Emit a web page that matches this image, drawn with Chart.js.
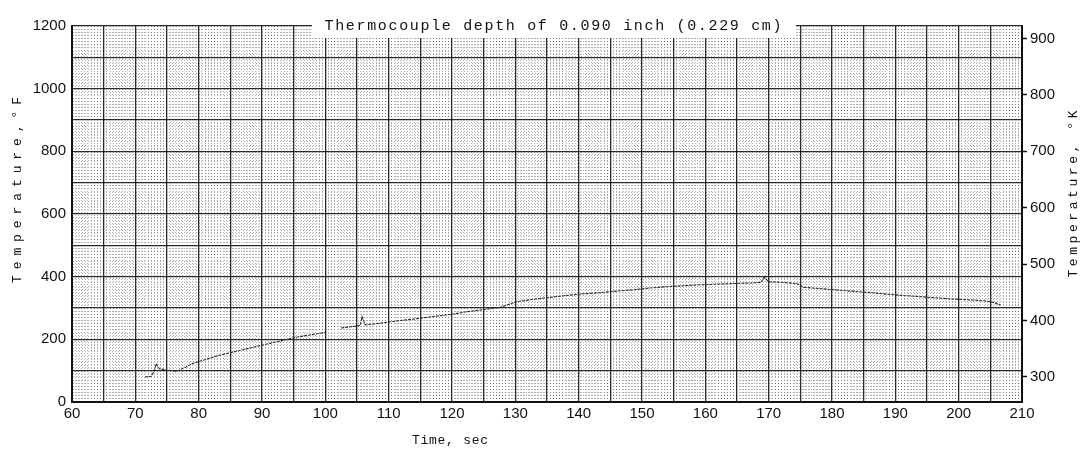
<!DOCTYPE html>
<html>
<head>
<meta charset="utf-8">
<script src="https://cdn.jsdelivr.net/npm/chart.js@4/dist/chart.umd.min.js"></script>
<style>
  html, body { margin: 0; padding: 0; background: #fff; }
  canvas { display: block; }
</style>
</head>
<body>
<canvas id="myChart" width="1084" height="455"></canvas>
<script>
// Thermocouple trace, time in sec and temperature in deg F (null = gap in the record)
const timeSec = [71.5, 72.5, 73.0, 73.3, 73.8, 75.0, 76.5, 78.0, 79.2, 81.0, 83.4, 86.0, 89.7, 92.5, 95.0, 97.5, 100.0, 100.1,
  101.0,
  102.5, 104.0, 105.5, 105.8, 106.3, 108.0, 111.8, 114.5, 117.1, 120.0, 122.3, 125.0, 127.6, 130.2, 132.9, 135.5, 138.1,
  140.5, 143.4, 146.0, 148.7, 151.3, 153.9, 156.5, 159.0, 161.8, 164.5, 167.1, 168.8, 169.3, 170.0, 172.0, 174.5, 175.5,
  178.7, 180.5, 182.9, 185.5, 188.2, 190.5, 193.4, 196.0, 198.7, 201.5, 204.0, 205.5, 206.6];
const tempF = [80, 82, 100, 122, 106, 102, 98, 112, 124, 135, 150, 162, 180, 193, 205, 214, 222, 232,
  null,
  236, 240, 244, 272, 246, 250, 260, 266, 273, 280, 288, 295, 302, 320, 328, 334, 340,
  345, 349, 354, 358, 364, 368, 371, 374, 376, 378, 380, 382, 398, 384, 382, 378, 366,
  361, 358, 354, 350, 345, 341, 337, 333, 329, 326, 323, 318, 310];

// Axis ranges and labelled ticks
const xRange = [60, 210];
const xLabelEvery = 10;
const fRange = [0, 1200];
const fLabelEvery = 200;
const kTicks = [300, 400, 500, 600, 700, 800, 900];

const titleText = 'Thermocouple depth of 0.090 inch (0.229 cm)';
const xTitle = 'Time, sec';
const yLeftTitle = 'Temperature,\u00B0F';
const yRightTitle = 'Temperature, \u00B0K';

const toK = (f) => (f - 32) * 5 / 9 + 273.15;
const isMultiple = (v, m) => Math.abs(v - Math.round(v / m) * m) < 1e-6;

const points = timeSec.map((t, i) => ({ x: t, y: tempF[i] }));

const mono = '"Liberation Mono", "DejaVu Sans Mono", monospace';
const sans = '"Liberation Sans", Arial, sans-serif';

// grid: heavy lines every 5 sec / 100 F, dotted fine grid in between
const gridColor = (major) => (c) => isMultiple(c.tick.value, major) ? 'rgba(20,20,20,0.9)' : 'rgba(0,0,0,0.32)';
const gridWidth = (major) => (c) => isMultiple(c.tick.value, major) ? 1.3 : 1;
const gridDash = (major) => (c) => (c.tick && isMultiple(c.tick.value, major)) ? [] : [1, 2];

// spaced typewriter text, stretched to a given length
const spacedText = (ctx, text, x, y, span, size, rot) => {
  ctx.save();
  ctx.font = `${size}px ${mono}`;
  ctx.fillStyle = '#111';
  ctx.letterSpacing = '0px';
  const w = ctx.measureText(text).width;
  const gap = Math.max(0, (span - w) / (text.length - 1));
  ctx.letterSpacing = gap + 'px';
  ctx.translate(x, y);
  if (rot) ctx.rotate(rot);
  ctx.textAlign = 'left';
  ctx.textBaseline = 'middle';
  ctx.fillText(text, -span / 2, 0);
  ctx.restore();
};

const labelsPlugin = {
  id: 'paperLabels',
  afterDraw(chart) {
    const ctx = chart.ctx;
    // white strip behind the heading
    ctx.save();
    ctx.fillStyle = '#fff';
    ctx.fillRect(312, 18, 484, 20);
    ctx.restore();
    spacedText(ctx, titleText, 553, 26, 457, 15, 0);
    spacedText(ctx, xTitle, 450, 441, 76, 13, 0);
    spacedText(ctx, yLeftTitle, 18, 190, 186, 13, -Math.PI / 2);
    spacedText(ctx, yRightTitle, 1074, 194, 167, 13, -Math.PI / 2);
  }
};

const ctx = document.getElementById('myChart').getContext('2d');
const myChart = new Chart(ctx, {
  type: 'line',
  data: {
    datasets: [{
      data: points,
      borderColor: '#2a2a2a',
      borderWidth: 1.1,
      borderDash: [3, 1],
      pointRadius: 0,
      tension: 0,
      spanGaps: false,
      yAxisID: 'y'
    }]
  },
  options: {
    responsive: false,
    animation: false,
    layout: { padding: { top: 26 } },
    plugins: {
      legend: { display: false },
      tooltip: { enabled: false }
    },
    scales: {
      x: {
        type: 'linear',
        min: xRange[0],
        max: xRange[1],
        afterFit: (s) => { s.height = 53; },
        ticks: {
          stepSize: 0.5,
          autoSkip: false,
          maxRotation: 0,
          padding: 3,
          color: '#111',
          font: { family: sans, size: 15 },
          callback: (v) => isMultiple(v, xLabelEvery) ? Math.round(v) : ''
        },
        grid: {
          color: gridColor(5),
          lineWidth: gridWidth(5),
          drawTicks: false
        },
        border: { color: '#111', width: 2, dash: gridDash(5) }
      },
      y: {
        position: 'left',
        min: fRange[0],
        max: fRange[1],
        afterFit: (s) => { s.width = 72; },
        ticks: {
          stepSize: 10,
          autoSkip: false,
          padding: 6,
          color: '#111',
          font: { family: sans, size: 15 },
          callback: (v) => isMultiple(v, fLabelEvery) ? Math.round(v) : ''
        },
        grid: {
          color: gridColor(100),
          lineWidth: gridWidth(100),
          drawTicks: false
        },
        border: { color: '#111', width: 2, dash: gridDash(100) }
      },
      yK: {
        position: 'right',
        min: toK(fRange[0]),
        max: toK(fRange[1]),
        afterFit: (s) => { s.width = 62; },
        afterBuildTicks: (s) => { s.ticks = kTicks.map((v) => ({ value: v })); },
        ticks: {
          padding: 3,
          color: '#111',
          font: { family: sans, size: 15 },
          callback: (v) => v
        },
        grid: {
          drawOnChartArea: false,
          tickLength: 5,
          tickColor: '#111',
          tickWidth: 1.5
        },
        border: { color: '#111', width: 2 }
      }
    }
  },
  plugins: [labelsPlugin]
});
</script>
</body>
</html>
